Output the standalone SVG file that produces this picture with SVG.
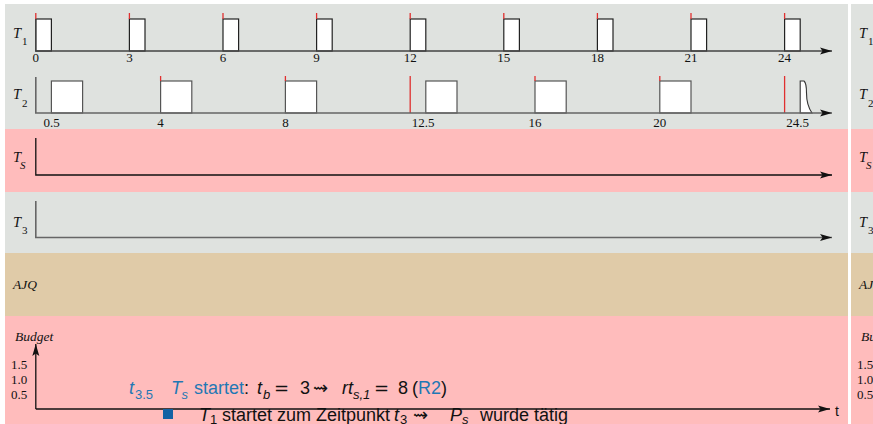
<svg xmlns="http://www.w3.org/2000/svg" width="873" height="424" viewBox="0 0 873 424">
<style>
.lbl{font-family:"Liberation Serif","Times New Roman",serif;font-style:italic;font-size:14.5px;fill:#111}
.sub{font-family:"Liberation Serif","Times New Roman",serif;font-style:normal;font-size:11px;fill:#111}
.subi{font-family:"Liberation Serif","Times New Roman",serif;font-style:italic;font-size:11px;fill:#111}
.num{font-family:"Liberation Serif","Times New Roman",serif;font-size:13px;fill:#111;text-anchor:middle}
.bnum{font-family:"Liberation Serif","Times New Roman",serif;font-size:13px;fill:#111}
.box{fill:#fff;stroke:#222;stroke-width:1.2}
.box2{fill:#fff;stroke:#555;stroke-width:1.2}
.red{stroke:#e03030;stroke-width:1.3}
.ax{stroke:#444;stroke-width:1.3;fill:none}
.axk{stroke:#111;stroke-width:1.3;fill:none}
.axg{stroke:#666;stroke-width:1.6;fill:none}
.sans{font-family:"Liberation Sans",Arial,sans-serif;font-size:18px;fill:#111}
.ssub{font-size:13px}
.it{font-style:italic}
.sym{font-family:"DejaVu Sans",sans-serif}
.blue{fill:#1f78b4}
.grey{fill:#dfe2df}
.pink{fill:#ffbcbc}
.tan{fill:#e0cba8}
</style>
<defs>
<marker id="arr" markerUnits="userSpaceOnUse" markerWidth="13" markerHeight="8" refX="12" refY="4" orient="auto">
<path d="M0,0.5 L12,4 L0,7.5 L2.5,4 Z" fill="#111"/>
</marker>
</defs>
<rect x="0" y="0" width="873" height="424" fill="#fff"/>
<g id="backgrounds">
<rect class="grey" x="5" y="4" width="843" height="125"/>
<rect class="pink" x="5" y="129" width="843" height="63"/>
<rect class="grey" x="5" y="192" width="843" height="61"/>
<rect class="tan" x="5" y="253" width="843" height="63"/>
<rect class="pink" x="5" y="316" width="843" height="108"/>
<rect class="grey" x="851" y="4" width="22" height="125"/>
<rect class="pink" x="851" y="129" width="22" height="63"/>
<rect class="grey" x="851" y="192" width="22" height="61"/>
<rect class="tan" x="851" y="253" width="22" height="63"/>
<rect class="pink" x="851" y="316" width="22" height="108"/>
</g>
<g id="row-T1">
<text class="lbl" x="13" y="37.5">T</text><text class="sub" x="22" y="45">1</text>
<g>
<rect class="box" x="35.8" y="19" width="15.6" height="32"/>
<rect class="box" x="129.4" y="19" width="15.6" height="32"/>
<rect class="box" x="223" y="19" width="15.6" height="32"/>
<rect class="box" x="316.6" y="19" width="15.6" height="32"/>
<rect class="box" x="410.2" y="19" width="15.6" height="32"/>
<rect class="box" x="503.8" y="19" width="15.6" height="32"/>
<rect class="box" x="597.4" y="19" width="15.6" height="32"/>
<rect class="box" x="691" y="19" width="15.6" height="32"/>
<rect class="box" x="784.6" y="19" width="15.6" height="32"/>
</g>
<g class="red">
<line x1="35.8" y1="13" x2="35.8" y2="19"/>
<line x1="129.4" y1="13" x2="129.4" y2="19"/>
<line x1="223" y1="13" x2="223" y2="19"/>
<line x1="316.6" y1="13" x2="316.6" y2="19"/>
<line x1="410.2" y1="13" x2="410.2" y2="19"/>
<line x1="503.8" y1="13" x2="503.8" y2="19"/>
<line x1="597.4" y1="13" x2="597.4" y2="19"/>
<line x1="691" y1="13" x2="691" y2="19"/>
<line x1="784.6" y1="13" x2="784.6" y2="19"/>
</g>
<text class="num" x="35.8" y="62">0</text>
<text class="num" x="129.4" y="62">3</text>
<text class="num" x="223" y="62">6</text>
<text class="num" x="316.6" y="62">9</text>
<text class="num" x="410.2" y="62">12</text>
<text class="num" x="503.8" y="62">15</text>
<text class="num" x="597.4" y="62">18</text>
<text class="num" x="691" y="62">21</text>
<text class="num" x="784.6" y="62">24</text>
</g>
<g id="row-T2">
<text class="lbl" x="13" y="99">T</text><text class="sub" x="22" y="106.5">2</text>
<rect class="box2" x="51.4" y="81" width="31.2" height="32"/>
<rect class="box2" x="160.6" y="81" width="31.2" height="32"/>
<rect class="box2" x="285.4" y="81" width="31.2" height="32"/>
<rect class="box2" x="425.8" y="81" width="31.2" height="32"/>
<rect class="box2" x="535" y="81" width="31.2" height="32"/>
<rect class="box2" x="659.8" y="81" width="31.2" height="32"/>
<path d="M800.2,113 V81 H804 Q806.5,83 806.5,93 Q806.5,105 812,113 Z" fill="#fff" stroke="#333" stroke-width="1.1"/>
<g class="red">
<line x1="160.6" y1="76" x2="160.6" y2="81"/>
<line x1="285.4" y1="76" x2="285.4" y2="81"/>
<line x1="535" y1="76" x2="535" y2="81"/>
<line x1="659.8" y1="76" x2="659.8" y2="81"/>
<line x1="410.2" y1="76" x2="410.2" y2="113"/>
<line x1="784.6" y1="76" x2="784.6" y2="113"/>
</g>
<text class="num" x="51.5" y="126.5">0.5</text>
<text class="num" x="160.6" y="126.5">4</text>
<text class="num" x="285.4" y="126.5">8</text>
<text class="num" x="423" y="126.5">12.5</text>
<text class="num" x="535" y="126.5">16</text>
<text class="num" x="659.8" y="126.5">20</text>
<text class="num" x="797.5" y="126.5">24.5</text>
</g>
<g id="row-TS">
<text class="lbl" x="13" y="162">T</text><text class="subi" x="20" y="169">S</text>
</g>
<g id="row-T3">
<text class="lbl" x="13" y="226.5">T</text><text class="sub" x="22" y="233.5">3</text>
</g>
<g id="row-AJQ">
<text class="lbl" x="13" y="289" style="font-size:13.5px">AJQ</text>
</g>
<g id="row-budget">
<text class="lbl" x="15" y="341" style="font-size:13.5px">Budget</text>
<text class="bnum" x="11" y="369">1.5</text>
<text class="bnum" x="11" y="384">1.0</text>
<text class="bnum" x="11" y="399">0.5</text>
<text class="sans" x="835" y="415.5" style="font-size:14px">t</text>
</g>
<g id="connectors">
<path class="ax" d="M35.8,19 V51 H832" marker-end="url(#arr)"/>
<path class="axg" d="M35.8,77 V113 H832" marker-end="url(#arr)"/>
<path class="axk" d="M35.8,138 V175 H832" marker-end="url(#arr)"/>
<path class="axg" d="M35.8,201 V237.5 H832" marker-end="url(#arr)"/>
<path class="axk" d="M35.8,409 V344" marker-end="url(#arr)"/>
<path class="axk" d="M35.8,409 H830" marker-end="url(#arr)"/>
</g>
<g id="text-lines">
<text class="sans" y="394">
<tspan class="blue it" x="129">t</tspan><tspan class="blue ssub" x="135" y="399">3.5</tspan>
<tspan class="blue it" x="171" y="394">T</tspan><tspan class="blue it ssub" x="181.5" y="399">s</tspan>
<tspan class="blue" x="194" y="394">startet</tspan><tspan>:</tspan>
<tspan class="it" x="257">t</tspan><tspan class="it ssub" x="263" y="399">b</tspan>
<tspan class="sym" x="274" y="394">=</tspan>
<tspan x="300">3</tspan>
<tspan class="sym" x="313">⇝</tspan>
<tspan class="it" x="342">rt</tspan><tspan class="it ssub" x="353" y="399">s,1</tspan>
<tspan class="sym" x="374" y="394">=</tspan>
<tspan x="398">8</tspan>
<tspan x="412">(</tspan><tspan class="blue">R2</tspan><tspan>)</tspan>
</text>
<rect x="163" y="409" width="10" height="10" fill="#1462a4"/>
<text class="sans" y="420.5">
<tspan class="it" x="199">T</tspan><tspan class="ssub" x="210" y="424">1</tspan>
<tspan x="222" y="420.5">startet zum Zeitpunkt</tspan>
<tspan class="it" x="394">t</tspan><tspan class="ssub" x="400" y="424">3</tspan>
<tspan class="sym" x="413" y="420.5">⇝</tspan>
<tspan class="it" x="450">P</tspan><tspan class="it ssub" x="462" y="424">s</tspan>
<tspan x="480" y="420.5">wurde tätig</tspan>
</text>
</g>
<g id="next-panel">
<text class="lbl" x="859" y="37.5">T</text><text class="sub" x="868" y="45">1</text>
<text class="lbl" x="859" y="99">T</text><text class="sub" x="868" y="106.5">2</text>
<text class="lbl" x="859" y="162">T</text><text class="subi" x="866" y="169">S</text>
<text class="lbl" x="859" y="226.5">T</text><text class="sub" x="868" y="233.5">3</text>
<text class="lbl" x="859" y="289" style="font-size:13.5px">AJQ</text>
<text class="lbl" x="861" y="341" style="font-size:13.5px">Budget</text>
<text class="bnum" x="857" y="369">1.5</text>
<text class="bnum" x="857" y="384">1.0</text>
<text class="bnum" x="857" y="399">0.5</text>
</g>
</svg>
